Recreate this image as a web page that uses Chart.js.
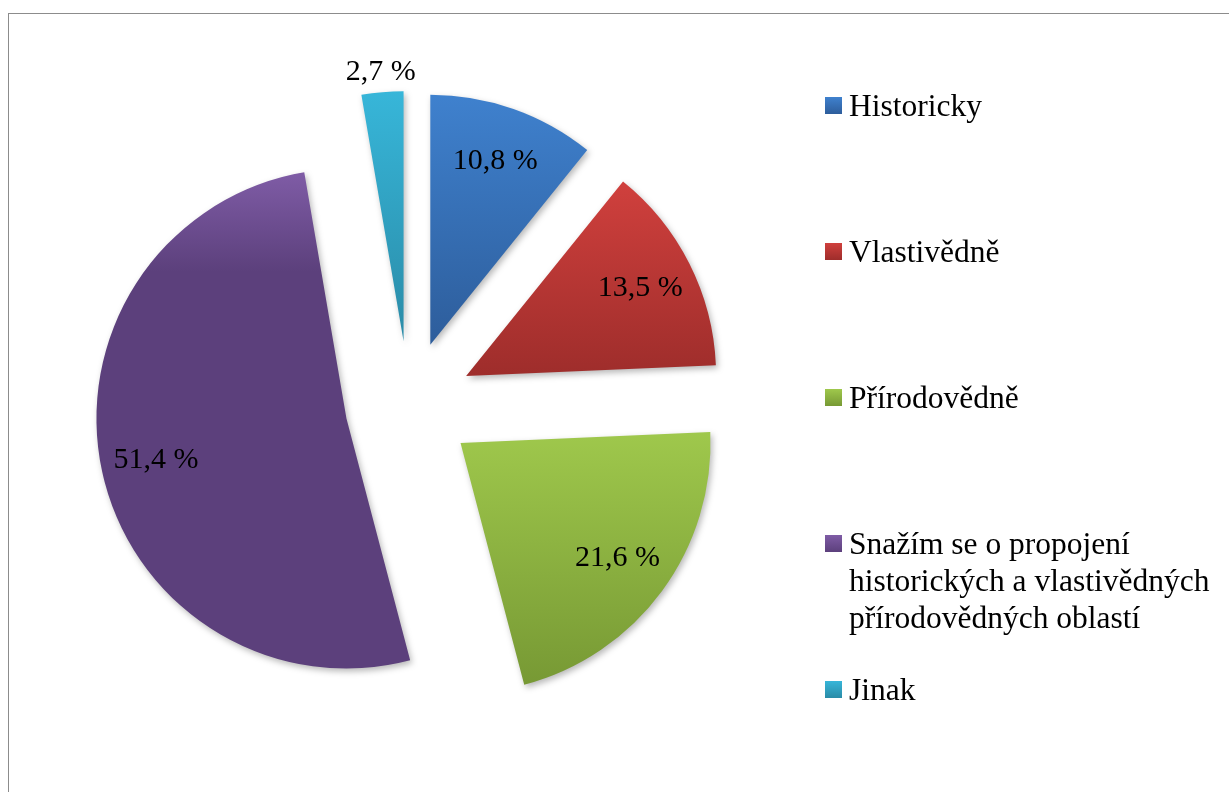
<!DOCTYPE html>
<html lang="cs">
<head>
<meta charset="utf-8">
<title>Graf</title>
<script src="https://cdn.jsdelivr.net/npm/chart.js@4/dist/chart.umd.min.js"></script>
<style>
  html, body { margin: 0; padding: 0; background: #fff; overflow: hidden; }
  #wrap { position: relative; width: 1229px; height: 792px; }
  #frame { position: absolute; left: 8px; top: 13px; width: 1260px; height: 820px; border: 1.5px solid #8c8c8c; box-sizing: border-box; }
  #chart { position: absolute; left: 0; top: 0; }
  .leg-box { position: absolute; left: 825px; width: 17px; height: 17px; }
  .leg-text { position: absolute; left: 849px; font-family: "Liberation Serif", "Times New Roman", serif; font-size: 31.5px; line-height: 37px; color: #000; white-space: nowrap; }
</style>
</head>
<body>
<div id="wrap">
  <div id="frame"></div>
  <canvas id="chart" width="1229" height="792"></canvas>
  <div id="legend"></div>
</div>
<script>
// Data
const labels = ['Historicky', 'Vlastivědně', 'Přírodovědně', 'Snažím se o propojení historických a vlastivědných přírodovědných oblastí', 'Jinak'];
const legendLines = [['Historicky'], ['Vlastivědně'], ['Přírodovědně'], ['Snažím se o propojení', 'historických a vlastivědných', 'přírodovědných oblastí'], ['Jinak']];
const values = [10.8, 13.5, 21.6, 51.4, 2.7];

// Farby (svetlá hore, tmavá dole) + kde končí prechod
const colorsTop = ['#3f81ce', '#d0403d', '#9fc84c', '#7f5ca6', '#37b6d9'];
const colorsBottom = ['#2d5d9b', '#9e2d2b', '#779934', '#5c407c', '#2a8ba7'];
const rampEnd = [1, 1, 1, 0.2, 1];

const EXPLODE = 64;
const RADIUS = 250;

function fmt(v) {
    return v.toFixed(1).replace('.', ',') + ' %';
}

// kresli vysunute vysece s gradientom a tienom
const explodePlugin = {
    id: 'explode',
    beforeDatasetDraw(chart, args) {
        const ctx = chart.ctx;
        args.meta.data.forEach((arc, i) => {
            const mid = (arc.startAngle + arc.endAngle) / 2;
            // vertikalny rozsah vysece
            let minY = arc.y, maxY = arc.y;
            for (let k = 0; k <= 60; k++) {
                const a = arc.startAngle + (arc.endAngle - arc.startAngle) * k / 60;
                const y = arc.y + Math.sin(a) * arc.outerRadius;
                minY = Math.min(minY, y);
                maxY = Math.max(maxY, y);
            }
            const grad = ctx.createLinearGradient(0, minY, 0, maxY);
            grad.addColorStop(0, colorsTop[i]);
            grad.addColorStop(rampEnd[i], colorsBottom[i]);
            if (rampEnd[i] < 1) grad.addColorStop(1, colorsBottom[i]);

            const saved = arc.options;
            arc.options = Object.assign({}, saved, { backgroundColor: grad, offset: 0, borderWidth: 0 });
            ctx.save();
            ctx.shadowColor = 'rgba(0,0,0,0.28)';
            ctx.shadowBlur = 6;
            ctx.shadowOffsetX = 2;
            ctx.shadowOffsetY = 3;
            ctx.translate(Math.cos(mid) * EXPLODE, Math.sin(mid) * EXPLODE);
            arc.draw(ctx);
            ctx.restore();
            arc.options = saved;
        });
        return false;
    },
    afterDatasetsDraw(chart) {
        const ctx = chart.ctx;
        const meta = chart.getDatasetMeta(0);
        ctx.save();
        ctx.font = '30px "Liberation Serif", "Times New Roman", serif';
        ctx.fillStyle = '#000';
        ctx.textAlign = 'center';
        ctx.textBaseline = 'middle';
        meta.data.forEach((arc, i) => {
            const mid = (arc.startAngle + arc.endAngle) / 2;
            const cx = arc.x + Math.cos(mid) * EXPLODE;
            const cy = arc.y + Math.sin(mid) * EXPLODE;
            const r = values[i] < 5 ? arc.outerRadius * 1.08 : arc.outerRadius * 0.78;
            ctx.fillText(fmt(values[i]), cx + Math.cos(mid) * r, cy + Math.sin(mid) * r);
        });
        ctx.restore();
    }
};

const ctx = document.getElementById('chart').getContext('2d');
new Chart(ctx, {
    type: 'pie',
    data: {
        labels: labels,
        datasets: [{
            data: values,
            backgroundColor: colorsTop,
            borderWidth: 0
        }]
    },
    options: {
        responsive: false,
        animation: false,
        events: [],
        radius: RADIUS,
        layout: { padding: { left: 0, right: 411, top: 18, bottom: 0 } },
        plugins: {
            legend: { display: false },
            tooltip: { enabled: false }
        }
    },
    plugins: [explodePlugin]
});

// Legenda
const legend = document.getElementById('legend');
legendLines.forEach((lines, i) => {
    const top = 97 + i * 146;
    const box = document.createElement('div');
    box.className = 'leg-box';
    box.style.top = top + 'px';
    box.style.background = 'linear-gradient(' + colorsTop[i] + ', ' + colorsBottom[i] + ')';
    legend.appendChild(box);

    const txt = document.createElement('div');
    txt.className = 'leg-text';
    txt.style.top = (top - 10) + 'px';
    lines.forEach((line, j) => {
        if (j > 0) txt.appendChild(document.createElement('br'));
        txt.appendChild(document.createTextNode(line));
    });
    legend.appendChild(txt);
});
</script>
</body>
</html>
